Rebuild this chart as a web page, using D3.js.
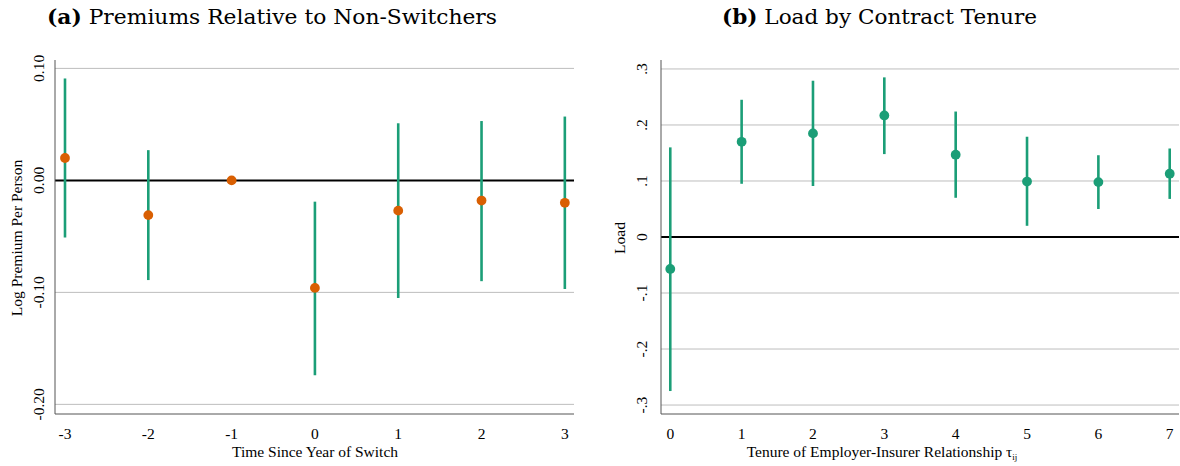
<!DOCTYPE html>
<html>
<head>
<meta charset="utf-8">
<script src="https://cdn.jsdelivr.net/npm/d3@7/dist/d3.min.js"></script>
<style>
  body { margin: 0; background: #fff; }
  svg { display: block; }
</style>
</head>
<body>
<svg id="chart" width="1180" height="466"></svg>
<script>
// Panel (a): premiums relative to non-switchers
const switchYears = [-3, -2, -1, 0, 1, 2, 3];
const premiumEst = [0.020, -0.031, 0.000, -0.096, -0.027, -0.018, -0.020];
const premiumHi = [0.091, 0.027, null, -0.019, 0.051, 0.053, 0.057];
const premiumLo = [-0.051, -0.089, null, -0.174, -0.105, -0.090, -0.097];
const premiumTicks = [0.10, 0.00, -0.10, -0.20];

// Panel (b): load by contract tenure
const tenureYears = [0, 1, 2, 3, 4, 5, 6, 7];
const loadEst = [-0.057, 0.170, 0.185, 0.217, 0.147, 0.099, 0.098, 0.113];
const loadHi = [0.160, 0.245, 0.279, 0.285, 0.224, 0.179, 0.146, 0.158];
const loadLo = [-0.275, 0.095, 0.091, 0.148, 0.070, 0.020, 0.050, 0.068];
const loadTicks = [0.3, 0.2, 0.1, 0, -0.1, -0.2, -0.3];

const GREEN = "#1b9e77", ORANGE = "#d95f02";
const SERIF = "'Liberation Serif', 'Times New Roman', serif";
const FS = 15.5;

const svg = d3.select("#chart");

function drawPanel(opt) {
  const g = svg.append("g");
  const x = d3.scaleLinear().domain(opt.xDomain).range([opt.left, opt.right]);
  const y = d3.scaleLinear().domain(opt.yDomain).range([opt.bottom, opt.top]);

  // gridlines
  g.selectAll("line.grid")
    .data(opt.yTicks.filter(t => t !== 0))
    .join("line")
    .attr("x1", opt.left).attr("x2", opt.right)
    .attr("y1", d => y(d)).attr("y2", d => y(d))
    .attr("stroke", "#bdbdbd").attr("stroke-width", 1);

  // zero line
  g.append("line")
    .attr("x1", opt.left).attr("x2", opt.right)
    .attr("y1", y(0)).attr("y2", y(0))
    .attr("stroke", "#000").attr("stroke-width", 2);

  // axes lines
  g.append("line")
    .attr("x1", opt.left).attr("x2", opt.left)
    .attr("y1", opt.top).attr("y2", opt.bottom)
    .attr("stroke", "#555").attr("stroke-width", 1);
  g.append("line")
    .attr("x1", opt.left).attr("x2", opt.right)
    .attr("y1", opt.bottom).attr("y2", opt.bottom)
    .attr("stroke", "#555").attr("stroke-width", 1);

  // y tick labels (rotated)
  g.selectAll("text.ytick")
    .data(opt.yTicks)
    .join("text")
    .attr("transform", d => `translate(${opt.yLabelX},${y(d)}) rotate(-90)`)
    .attr("text-anchor", "middle")
    .attr("font-family", SERIF).attr("font-size", FS)
    .text(opt.yFormat);

  // x tick labels
  g.selectAll("text.xtick")
    .data(opt.xs)
    .join("text")
    .attr("x", d => x(d)).attr("y", 439)
    .attr("text-anchor", "middle")
    .attr("font-family", SERIF).attr("font-size", FS)
    .text(d => d);

  // axis titles
  g.append("text")
    .attr("transform", `translate(${opt.yTitleX},${(opt.top + opt.bottom) / 2 + 1}) rotate(-90)`)
    .attr("text-anchor", "middle")
    .attr("font-family", SERIF).attr("font-size", FS)
    .text(opt.yTitle);

  const xt = g.append("text")
    .attr("x", opt.xTitleX).attr("y", 457)
    .attr("text-anchor", "middle")
    .attr("font-family", SERIF).attr("font-size", FS);
  opt.xTitle(xt);

  // confidence intervals
  g.selectAll("line.ci")
    .data(opt.xs.map((d, i) => ({ x: d, lo: opt.lo[i], hi: opt.hi[i] })).filter(d => d.lo !== null))
    .join("line")
    .attr("x1", d => x(d.x)).attr("x2", d => x(d.x))
    .attr("y1", d => y(d.lo)).attr("y2", d => y(d.hi))
    .attr("stroke", GREEN).attr("stroke-width", 2.6);

  // points
  g.selectAll("circle.pt")
    .data(opt.xs.map((d, i) => ({ x: d, v: opt.est[i] })))
    .join("circle")
    .attr("cx", d => x(d.x)).attr("cy", d => y(d.v))
    .attr("r", 4.9)
    .attr("fill", opt.pointColor);

  // title
  const t = g.append("text")
    .attr("x", opt.titleX).attr("y", 24)
    .attr("font-family", "'DejaVu Serif', serif").attr("font-size", 21)
    .attr("textLength", opt.titleLen).attr("lengthAdjust", "spacingAndGlyphs");
  t.append("tspan").attr("font-weight", "bold").text(opt.titleTag);
  t.append("tspan").text(" " + opt.title);
}

drawPanel({
  left: 55, right: 574, top: 60, bottom: 414,
  xDomain: [-3.12, 3.11], yDomain: [-0.2086, 0.1075],
  xs: switchYears, est: premiumEst, hi: premiumHi, lo: premiumLo,
  yTicks: premiumTicks, yFormat: d => d3.format(".2f")(d).replace("−", "-"),
  yLabelX: 44, yTitleX: 22, yTitle: "Log Premium Per Person",
  xTitleX: 315,
  xTitle: t => t.text("Time Since Year of Switch"),
  pointColor: ORANGE,
  titleX: 47, titleLen: 450, titleTag: "(a)", title: "Premiums Relative to Non-Switchers"
});

drawPanel({
  left: 661, right: 1179, top: 60, bottom: 414,
  xDomain: [-0.13, 7.13], yDomain: [-0.316, 0.316],
  xs: tenureYears, est: loadEst, hi: loadHi, lo: loadLo,
  yTicks: loadTicks, yFormat: d => d === 0 ? "0" : d3.format(".1f")(d).replace("−", "-").replace("0.", "."),
  yLabelX: 647, yTitleX: 625, yTitle: "Load",
  xTitleX: 882,
  xTitle: t => {
    t.append("tspan").text("Tenure of Employer-Insurer Relationship \u03C4");
    t.append("tspan").attr("font-size", 9).attr("dy", 3).text("ij");
  },
  pointColor: GREEN,
  titleX: 722, titleLen: 315, titleTag: "(b)", title: "Load by Contract Tenure"
});
</script>
</body>
</html>
